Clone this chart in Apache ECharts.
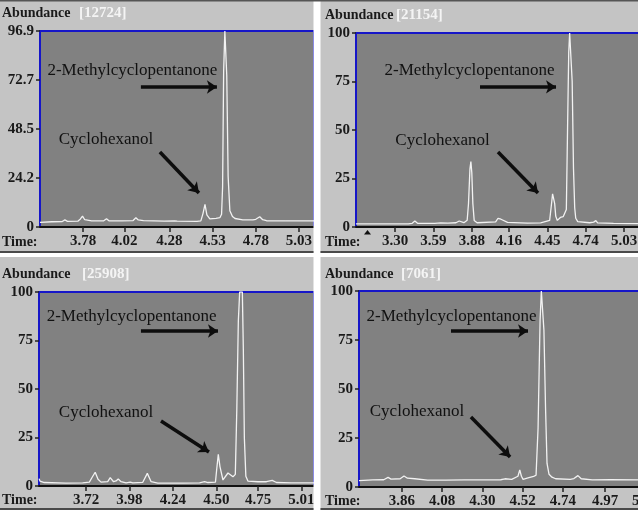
<!DOCTYPE html>
<html>
<head>
<meta charset="utf-8">
<script src="https://cdn.jsdelivr.net/npm/echarts@6/dist/echarts.min.js"></script>
<style>
html, body { margin: 0; padding: 0; background: #fff; }
#chart { width: 638px; height: 514px; }
</style>
</head>
<body>
<div id="chart"></div>
<script>
// total ion counts shown next to "Abundance"
const totals = ['12724', '21154', '25908', '7061'];

// tick labels
const xTicks1 = [3.78, 4.02, 4.28, 4.53, 4.78, 5.03];
const xTicks2 = [3.30, 3.59, 3.88, 4.16, 4.45, 4.74, 5.03];
const xTicks3 = [3.72, 3.98, 4.24, 4.50, 4.75, 5.01];
const xTicks4 = [3.86, 4.08, 4.30, 4.52, 4.74, 4.97, 5.19];
const yTicks1 = [0, 24.2, 48.5, 72.7, 96.9];
const yTicks100 = [0, 25, 50, 75, 100];

// chromatograms: [time (min), relative abundance]
const trace1 = [
  [3.531, 2.3], [3.60, 2.6], [3.66, 2.7], [3.675, 3.5], [3.69, 2.8], [3.75, 2.9], [3.765, 4.0],
  [3.777, 5.4], [3.79, 3.6], [3.83, 3.0], [3.90, 3.1], [3.916, 4.1], [3.93, 3.1], [4.00, 3.0],
  [4.07, 3.2], [4.086, 4.6], [4.10, 3.5], [4.13, 3.2], [4.25, 2.9], [4.31, 3.0], [4.317, 3.8],
  [4.325, 2.9], [4.44, 2.8], [4.462, 3.0], [4.474, 6.5], [4.486, 11.2], [4.497, 6.0], [4.514, 4.0],
  [4.55, 4.3], [4.572, 4.6], [4.582, 6.3], [4.588, 20], [4.594, 77], [4.601, 96.9], [4.607, 96.9],
  [4.612, 75], [4.620, 25], [4.630, 8], [4.645, 5.2], [4.66, 4.2], [4.705, 3.5], [4.763, 3.5],
  [4.78, 3.8], [4.803, 5.1], [4.82, 3.6], [4.842, 3.1], [4.95, 3.0], [5.117, 3.0]
];
const trace2 = [
  [3.005, 1.6], [3.20, 1.6], [3.40, 1.6], [3.43, 1.9], [3.45, 3.1], [3.47, 1.9], [3.60, 1.9],
  [3.645, 2.1], [3.70, 2.0], [3.76, 2.2], [3.785, 3.1], [3.82, 2.2], [3.845, 3.5], [3.855, 12],
  [3.866, 30], [3.873, 33.7], [3.880, 28], [3.888, 12], [3.898, 3.4], [3.92, 2.2], [4.06, 2.6],
  [4.078, 4.5], [4.088, 4.9], [4.10, 4.0], [4.114, 3.1], [4.15, 2.4], [4.30, 2.0], [4.40, 2.1],
  [4.468, 3.4], [4.482, 12], [4.49, 17.1], [4.497, 18.0], [4.506, 12], [4.514, 5.5], [4.526, 3.4],
  [4.549, 4.9], [4.57, 5.3], [4.585, 6.1], [4.594, 9], [4.603, 50], [4.612, 90], [4.619, 100],
  [4.631, 100], [4.638, 75], [4.648, 30], [4.657, 10], [4.665, 4.5], [4.68, 2.8], [4.77, 2.2],
  [4.80, 2.5], [4.817, 3.3], [4.83, 2.1], [4.95, 1.9], [5.188, 1.7]
];
const trace3 = [
  [3.439, 3.8], [3.445, 2.5], [3.47, 1.8], [3.60, 1.5], [3.70, 1.6], [3.74, 2.0], [3.757, 4.5],
  [3.775, 7.1], [3.792, 3.5], [3.81, 2.0], [3.85, 2.3], [3.865, 4.3], [3.885, 2.2], [3.90, 2.6],
  [3.913, 3.6], [3.93, 2.2], [3.96, 1.6], [3.985, 2.0], [4.00, 1.6], [4.06, 1.9], [4.087, 6.5],
  [4.11, 2.2], [4.15, 1.5], [4.30, 1.5], [4.40, 1.6], [4.43, 2.3], [4.45, 1.8], [4.495, 2.0],
  [4.503, 9], [4.512, 16.3], [4.522, 10], [4.54, 3.1], [4.57, 6.7], [4.60, 4.8], [4.614, 6],
  [4.623, 40], [4.632, 85], [4.64, 100], [4.656, 100], [4.662, 70], [4.668, 25], [4.677, 5],
  [4.69, 2.5], [4.75, 2.2], [4.80, 2.2], [4.835, 2.9], [4.86, 1.8], [4.95, 1.6], [5.085, 1.6]
];
const trace4 = [
  [3.625, 3.3], [3.70, 3.6], [3.76, 3.7], [3.784, 4.9], [3.80, 4.0], [3.85, 4.2], [3.871, 5.6],
  [3.89, 4.5], [3.93, 4.2], [4.00, 3.5], [4.10, 3.5], [4.20, 3.6], [4.30, 3.6], [4.40, 3.7],
  [4.423, 4.2], [4.46, 3.9], [4.494, 5.5], [4.504, 8.7], [4.513, 5.5], [4.522, 3.9], [4.549, 4.6],
  [4.58, 5.4], [4.593, 6], [4.604, 30], [4.615, 85], [4.622, 100], [4.631, 100], [4.636, 80],
  [4.645, 40], [4.653, 12], [4.664, 6.5], [4.68, 5], [4.70, 4.2], [4.78, 3.9], [4.80, 4.3],
  [4.822, 5.8], [4.84, 4.2], [4.90, 3.6], [5.00, 3.7], [5.216, 3.6]
];

// annotations in data space: [text, time, abundance] and arrows [t0, v0, t1, v1]
const labels1 = [['2-Methylcyclopentanone', 4.066, 77.6], ['Cyclohexanol', 3.913, 43.0]];
const arrows1 = [[4.115, 69.2, 4.555, 69.2], [4.225, 37.1, 4.451, 16.8]];
const labels2 = [['2-Methylcyclopentanone', 3.863, 80.4], ['Cyclohexanol', 3.659, 44.8]];
const arrows2 = [[3.942, 72.2, 4.516, 72.2], [4.078, 38.7, 4.380, 17.5]];
const labels3 = [['2-Methylcyclopentanone', 3.993, 87.6], ['Cyclohexanol', 3.840, 38.1]];
const arrows3 = [[4.049, 79.9, 4.510, 79.9], [4.169, 33.5, 4.456, 17.5]];
const labels4 = [['2-Methylcyclopentanone', 4.131, 87.2], ['Cyclohexanol', 3.942, 38.3]];
const arrows4 = [[4.128, 79.6, 4.549, 79.6], [4.237, 35.7, 4.451, 15.3]];

const traces = [trace1, trace2, trace3, trace4];
const xTickSets = [xTicks1, xTicks2, xTicks3, xTicks4];
const yTickSets = [yTicks1, yTicks100, yTicks100, yTicks100];
const labelSets = [labels1, labels2, labels3, labels4];
const arrowSets = [arrows1, arrows2, arrows3, arrows4];

const panels = [
  { grid: { left: 40, top: 31, width: 274, height: 196 }, xMin: 3.531, xMax: 5.117, yMax: 96.9, yDigits: 1, x0: 2, headY: 13, timeY: 242, bracketX: 79 },
  { grid: { left: 356, top: 33, width: 289, height: 194 }, xMin: 3.0054, xMax: 5.188, yMax: 100, yDigits: 0, x0: 325, headY: 15, timeY: 242, bracketX: 396 },
  { grid: { left: 39, top: 292, width: 275, height: 194 }, xMin: 3.4386, xMax: 5.085, yMax: 100, yDigits: 0, x0: 2, headY: 274, timeY: 500, bracketX: 82 },
  { grid: { left: 359, top: 291, width: 291, height: 196 }, xMin: 3.625, xMax: 5.216, yMax: 100, yDigits: 0, x0: 325, headY: 274, timeY: 501, bracketX: 401 }
];

const serif = '"Liberation Serif", "DejaVu Serif", serif';
const ink = '#1a1a1a';
const tickFont = { color: ink, fontFamily: serif, fontWeight: 'bold', fontSize: 15 };

const chrome = [];
panels.forEach((p, i) => {
  chrome.push({
    type: 'text', z: 110,
    style: { text: 'Abundance', x: p.x0, y: p.headY, verticalAlign: 'middle', font: 'bold 14px ' + serif, fill: ink }
  });
  chrome.push({
    type: 'text', z: 110,
    style: { text: '[' + totals[i] + ']', x: p.bracketX, y: p.headY, verticalAlign: 'middle', font: 'bold 15px ' + serif, fill: '#f4f4f4' }
  });
  chrome.push({
    type: 'text', z: 110,
    style: { text: 'Time:', x: p.x0, y: p.timeY, verticalAlign: 'middle', font: 'bold 14px ' + serif, fill: ink }
  });
});

const chart = echarts.init(document.getElementById('chart'));
chart.setOption({
  animation: false,
  backgroundColor: '#c4c4c4',
  grid: panels.map(p => Object.assign({}, p.grid, {
    show: true, containLabel: false, outerBoundsMode: 'none',
    backgroundColor: '#818181', borderColor: '#1616c8', borderWidth: 2
  })),
  xAxis: panels.map((p, i) => ({
    type: 'value', gridIndex: i, min: p.xMin, max: p.xMax,
    axisLine: { onZero: false, lineStyle: { color: '#111', width: 2 } },
    axisTick: { show: true, length: 5, customValues: xTickSets[i], lineStyle: { color: '#222', width: 1.5 } },
    axisLabel: Object.assign({ customValues: xTickSets[i], margin: 7, formatter: v => v.toFixed(2) }, tickFont),
    splitLine: { show: false }
  })),
  yAxis: panels.map((p, i) => ({
    type: 'value', gridIndex: i, min: 0, max: p.yMax,
    axisLine: { show: true, lineStyle: { color: '#1616c8', width: 2 } },
    axisTick: { show: true, length: 4, customValues: yTickSets[i], lineStyle: { color: '#222', width: 1.5 } },
    axisLabel: Object.assign({
      customValues: yTickSets[i], margin: 6,
      formatter: v => (v === 0 ? '0' : v.toFixed(p.yDigits))
    }, tickFont),
    splitLine: { show: false }
  })),
  series: traces.map((d, i) => ({
    type: 'line', xAxisIndex: i, yAxisIndex: i, data: d,
    symbol: 'none', clip: true,
    lineStyle: { color: '#f2f2f2', width: 1.3 },
    markLine: {
      silent: true, symbol: ['none', 'arrow'], symbolSize: 10,
      lineStyle: { color: '#0d0d0d', width: 3.5, type: 'solid' },
      label: { show: false },
      data: arrowSets[i].map(a => [{ coord: [a[0], a[1]] }, { coord: [a[2], a[3]] }])
    },
    markPoint: {
      silent: true,
      data: labelSets[i].map(n => ({
        coord: [n[1], n[2]], symbol: 'circle', symbolSize: 0,
        label: { show: true, position: 'inside', formatter: n[0], color: '#111', fontFamily: serif, fontSize: 17 }
      }))
    }
  })),
  graphic: [
    // white gaps between the four screenshots
    { type: 'rect', z: 100, shape: { x: 313.5, y: 0, width: 7, height: 514 }, style: { fill: '#fff' } },
    { type: 'rect', z: 100, shape: { x: 0, y: 253, width: 638, height: 4 }, style: { fill: '#fff' } },
    { type: 'rect', z: 100, shape: { x: 0, y: 510, width: 638, height: 4 }, style: { fill: '#fff' } },
    { type: 'rect', z: 100, shape: { x: 0, y: 251, width: 313.5, height: 2 }, style: { fill: '#4a4a4a' } },
    { type: 'rect', z: 100, shape: { x: 320.5, y: 251, width: 318, height: 2 }, style: { fill: '#4a4a4a' } },
    { type: 'rect', z: 100, shape: { x: 0, y: 508, width: 313.5, height: 2 }, style: { fill: '#4a4a4a' } },
    { type: 'rect', z: 100, shape: { x: 320.5, y: 508, width: 318, height: 2 }, style: { fill: '#4a4a4a' } },
    { type: 'rect', z: 100, shape: { x: 0, y: 0, width: 638, height: 1.5 }, style: { fill: '#555' } },
    // scan marker under the second chromatogram
    { type: 'polygon', z: 110, shape: { points: [[364, 234.5], [371, 234.5], [367.5, 230]] }, style: { fill: '#111' } }
  ].concat(chrome)
});
window.addEventListener('resize', () => chart.resize());
</script>
</body>
</html>
